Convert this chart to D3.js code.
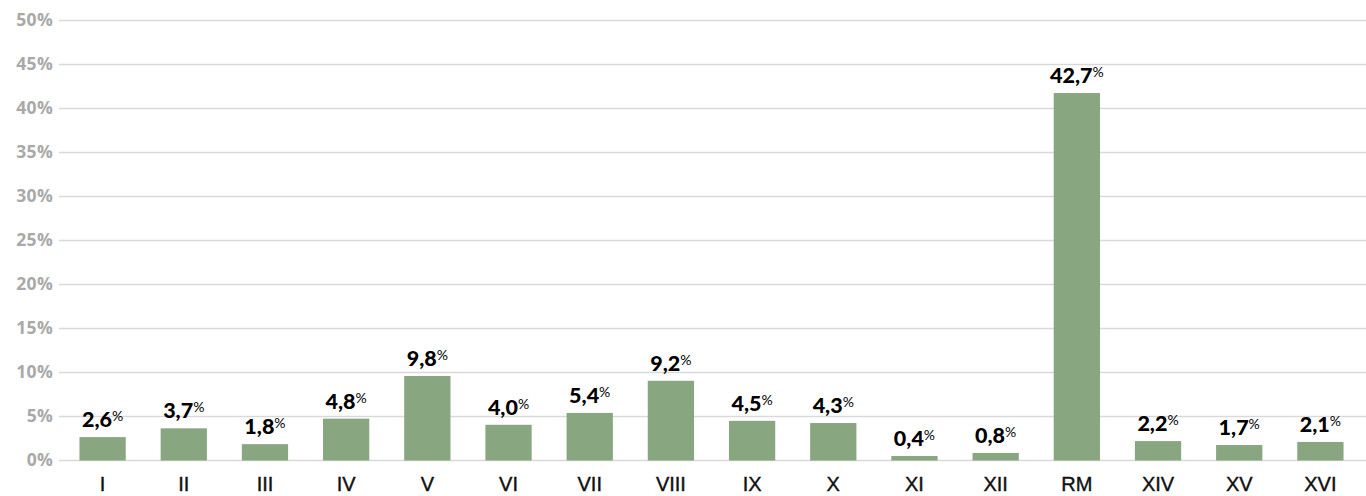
<!DOCTYPE html>
<html><head><meta charset="utf-8">
<script src="https://cdn.jsdelivr.net/npm/d3@7/dist/d3.min.js"></script>
<style>
body{margin:0;background:#fff;}
svg{display:block;font-family:Lato,"Open Sans",sans-serif;}
</style></head><body>
<svg id="c" width="1366" height="496"></svg>
<script>
const categories = ["I","II","III","IV","V","VI","VII","VIII","IX","X","XI","XII","RM","XIV","XV","XVI"];
const barValues = [2.6,3.6,1.8,4.7,9.55,4.0,5.35,9.0,4.45,4.2,0.45,0.8,41.7,2.15,1.7,2.05];
const valueLabels = ["2,6","3,7","1,8","4,8","9,8","4,0","5,4","9,2","4,5","4,3","0,4","0,8","42,7","2,2","1,7","2,1"];
const yTicks = [0,5,10,15,20,25,30,35,40,45,50];

const svg = d3.select("#c");
const x = d3.scaleBand().domain(categories).range([62, 1361]).paddingInner(0.43).paddingOuter(0.215);
const y = d3.scaleLinear().domain([0,50]).range([460,20]);

// grid
const gy = svg.append("g").attr("transform","translate(59,0)")
  .call(d3.axisLeft(y).tickValues(yTicks).tickSize(-1307).tickFormat(d=>d+"%").tickPadding(6));
gy.select(".domain").remove();
gy.selectAll(".tick line").attr("stroke","#d9d9d9").attr("stroke-width",1.6);
gy.selectAll(".tick text").attr("fill","#a9a9a9").attr("font-size","17.5px").attr("font-weight","700")
  .attr("font-family","'Open Sans', sans-serif").attr("letter-spacing","0.3px");

// bars
svg.append("g").selectAll("rect").data(categories).join("rect")
  .attr("x", d=>x(d)).attr("width", x.bandwidth())
  .attr("y", (d,i)=>y(barValues[i])).attr("height",(d,i)=>y(0)-y(barValues[i]) + 0.5)
  .attr("fill","#88a680");

// value labels
const lab = svg.append("g").selectAll("text").data(categories).join("text")
  .attr("x", d=>x(d)+x.bandwidth()/2)
  .attr("y", (d,i)=>y(barValues[i]) - 10)
  .attr("text-anchor","middle")
  .attr("fill","#000").attr("font-weight","900").attr("font-size","21.5px");
lab.append("tspan").text((d,i)=>valueLabels[i]);
lab.append("tspan").text("%").attr("font-size","14px").attr("font-weight","400").attr("dy","-6");

// x axis labels
const gx = svg.append("g").attr("transform","translate(0,460)")
  .call(d3.axisBottom(x).tickSize(0).tickPadding(0));
gx.select(".domain").remove();
gx.selectAll(".tick text").attr("fill","#111").attr("font-size","20px").attr("font-weight","400")
  .attr("font-family","'Liberation Sans', Arial, sans-serif").attr("y",31).attr("dy","0")
  .attr("stroke","#111").attr("stroke-width",0.4);
</script>
</body></html>
